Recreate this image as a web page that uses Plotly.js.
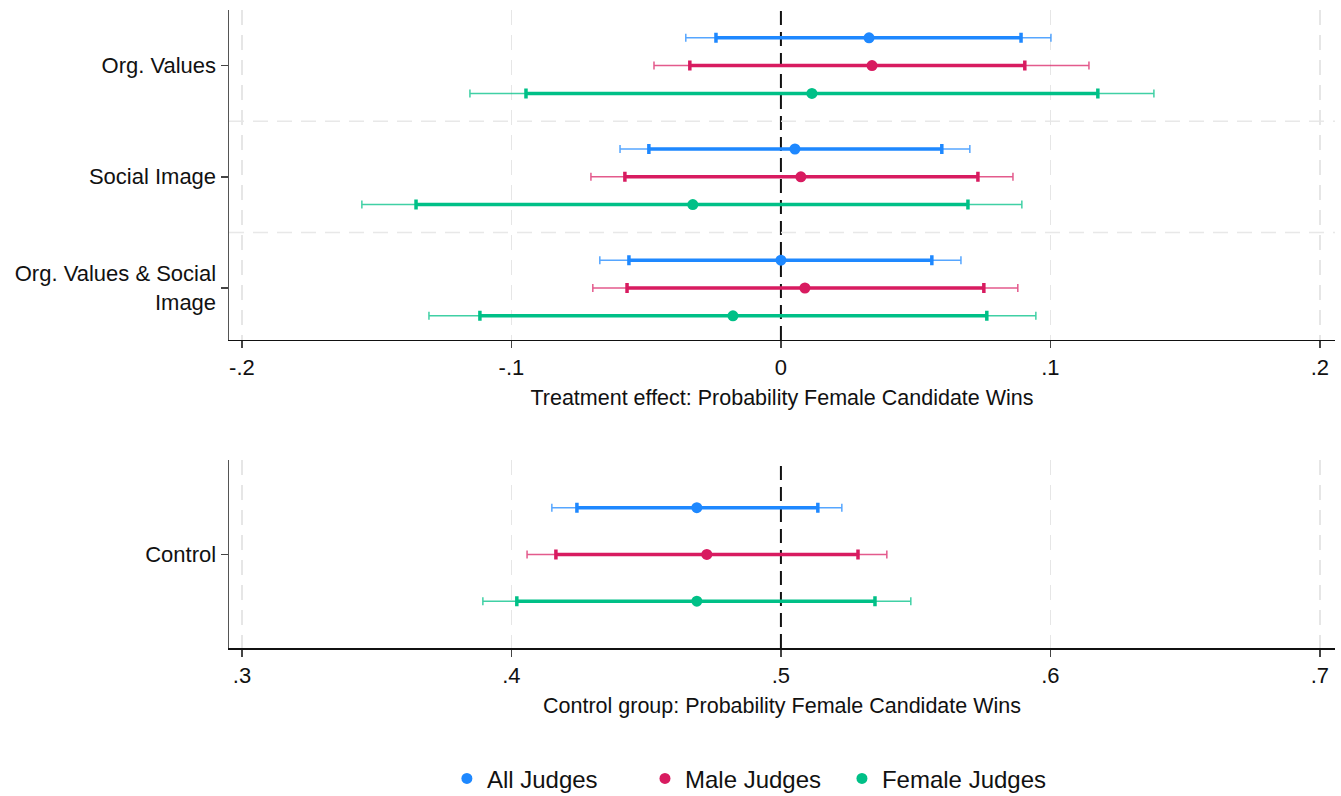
<!DOCTYPE html>
<html>
<head>
<meta charset="utf-8">
<script src="https://cdn.plot.ly/plotly-3.0.1.min.js"></script>
<style>html,body{margin:0;padding:0;background:#fff;}#chart{width:1341px;height:796px;}</style>
</head>
<body>
<div id="chart"></div>
<script>
// ---- data ----
const treatments = ["Org. Values", "Social Image", "Org. Values & Social<br>Image"];
const seriesNames = ["All Judges", "Male Judges", "Female Judges"];

// Treatment effects (top panel)
const allEst   = [0.0327, 0.0052, 0.0000];
const allLo90  = [-0.0241, -0.0490, -0.0564];
const allHi90  = [0.0891, 0.0597, 0.0560];
const allLo95  = [-0.0353, -0.0597, -0.0672];
const allHi95  = [0.1002, 0.0701, 0.0668];

const maleEst  = [0.0338, 0.0074, 0.0089];
const maleLo90 = [-0.0338, -0.0579, -0.0571];
const maleHi90 = [0.0905, 0.0731, 0.0753];
const maleLo95 = [-0.0471, -0.0705, -0.0698];
const maleHi95 = [0.1143, 0.0861, 0.0879];

const femEst   = [0.0115, -0.0327, -0.0178];
const femLo90  = [-0.0946, -0.1354, -0.1117];
const femHi90  = [0.1176, 0.0694, 0.0764];
const femLo95  = [-0.1154, -0.1555, -0.1306];
const femHi95  = [0.1384, 0.0894, 0.0946];

// Control group (bottom panel): All, Male, Female
const controlLabel = "Control";
const controlEst  = [0.4688, 0.4725, 0.4688];
const controlLo90 = [0.4243, 0.4165, 0.4020];
const controlHi90 = [0.5137, 0.5286, 0.5349];
const controlLo95 = [0.4150, 0.4058, 0.3894];
const controlHi95 = [0.5226, 0.5393, 0.5482];

const topTickVals = [-0.2, -0.1, 0, 0.1, 0.2];
const topTickText = ["-.2", "-.1", "0", ".1", ".2"];
const botTickVals = [0.3, 0.4, 0.5, 0.6, 0.7];
const botTickText = [".3", ".4", ".5", ".6", ".7"];
const topRefValue = 0;
const botRefValue = 0.5;

// ---- styles ----
const colors = ["#1e88ff", "#d81b60", "#00c087"];
const lightColors = ["rgba(30,136,255,0.75)", "rgba(216,27,96,0.72)", "rgba(0,192,135,0.75)"];
const FONT = "Liberation Sans, Arial, Helvetica, sans-serif";
const legendIds = ["legend", "legend2", "legend3"];
const legendX = [0.197, 0.3761, 0.5542];

const topSeries = [
  {est: allEst, lo90: allLo90, hi90: allHi90, lo95: allLo95, hi95: allHi95},
  {est: maleEst, lo90: maleLo90, hi90: maleHi90, lo95: maleLo95, hi95: maleHi95},
  {est: femEst, lo90: femLo90, hi90: femHi90, lo95: femLo95, hi95: femHi95}
];

const traces = [];
const GROUP_STEP = 4;

topSeries.forEach((s, k) => {
  const ys = s.est.map((_, g) => g * GROUP_STEP + k);
  traces.push({
    type: "scatter", mode: "markers", x: s.est, y: ys, xaxis: "x", yaxis: "y",
    marker: {size: 1, color: "rgba(0,0,0,0)"},
    error_x: {type: "data", symmetric: false,
      array: s.hi95.map((v, i) => v - s.est[i]),
      arrayminus: s.est.map((v, i) => v - s.lo95[i]),
      color: lightColors[k], thickness: 1.5, width: 4},
    showlegend: false, hoverinfo: "skip", legend: legendIds[k]
  });
  traces.push({
    type: "scatter", mode: "markers", x: s.est, y: ys, xaxis: "x", yaxis: "y",
    name: seriesNames[k], legend: legendIds[k],
    marker: {size: 11, color: colors[k]},
    error_x: {type: "data", symmetric: false,
      array: s.hi90.map((v, i) => v - s.est[i]),
      arrayminus: s.est.map((v, i) => v - s.lo90[i]),
      color: colors[k], thickness: 3.5, width: 5},
    showlegend: true
  });
});

controlEst.forEach((e, k) => {
  traces.push({
    type: "scatter", mode: "markers", x: [e], y: [k], xaxis: "x2", yaxis: "y2",
    marker: {size: 1, color: "rgba(0,0,0,0)"},
    error_x: {type: "data", symmetric: false,
      array: [controlHi95[k] - e], arrayminus: [e - controlLo95[k]],
      color: lightColors[k], thickness: 1.5, width: 4},
    showlegend: false, hoverinfo: "skip", legend: legendIds[k]
  });
  traces.push({
    type: "scatter", mode: "markers", x: [e], y: [k], xaxis: "x2", yaxis: "y2",
    name: seriesNames[k], legend: legendIds[k],
    marker: {size: 11, color: colors[k]},
    error_x: {type: "data", symmetric: false,
      array: [controlHi90[k] - e], arrayminus: [e - controlLo90[k]],
      color: colors[k], thickness: 3.5, width: 5},
    showlegend: false
  });
});

const shapes = [];
shapes.push({type: "line", xref: "x", yref: "y domain", x0: topRefValue, x1: topRefValue, y0: 0, y1: 1,
  line: {color: "#111", width: 2, dash: "14px,7px"}, layer: "below"});
shapes.push({type: "line", xref: "x2", yref: "y2 domain", x0: botRefValue, x1: botRefValue, y0: 0, y1: 1,
  line: {color: "#111", width: 2, dash: "14px,7px"}, layer: "below"});
for (let g = 1; g < treatments.length; g++) {
  const ySep = g * GROUP_STEP - 1;
  shapes.push({type: "line", xref: "x domain", yref: "y", x0: 0, x1: 1, y0: ySep, y1: ySep,
    line: {color: "#e8e8e8", width: 1.5, dash: "15px,9px"}, layer: "below"});
}

const tickFont = {family: FONT, size: 22, color: "#111"};
const titleFont = {family: FONT, size: 21.5, color: "#111"};

function gridMinor(vals, ref) {
  return {tickmode: "array", tickvals: vals.filter(v => Math.abs(v - ref) > 1e-9),
    showgrid: true, gridcolor: "#e6e6e6", griddash: "15px,10px", gridwidth: 1.5, ticks: ""};
}

function makeLegend(x) {
  return {orientation: "h", x: x, xanchor: "left", y: -0.205, yanchor: "middle",
    font: {family: FONT, size: 24, color: "#111"}, itemwidth: 30, bgcolor: "rgba(0,0,0,0)"};
}

const layout = {
  width: 1341, height: 796,
  margin: {l: 229, r: 6, t: 10, b: 148, autoexpand: false},
  paper_bgcolor: "#fff", plot_bgcolor: "#fff",
  font: {family: FONT, size: 21, color: "#111"},
  showlegend: true,
  legend: makeLegend(legendX[0]),
  legend2: makeLegend(legendX[1]),
  legend3: makeLegend(legendX[2]),
  xaxis: {
    domain: [0, 1], anchor: "y", range: [-0.2048, 0.2056],
    tickvals: topTickVals, ticktext: topTickText, tickfont: tickFont,
    showgrid: false, minor: gridMinor(topTickVals, topRefValue),
    zeroline: false, showline: true, linecolor: "#111", linewidth: 1.5,
    ticks: "outside", ticklen: 7, tickcolor: "#444", tickwidth: 1.5,
    title: {text: "Treatment effect: Probability Female Candidate Wins", font: titleFont, standoff: 11}
  },
  yaxis: {
    domain: [0.4828, 1], anchor: "x", range: [10.87, -1],
    tickvals: treatments.map((_, g) => g * GROUP_STEP + 1), ticktext: treatments, tickfont: tickFont,
    showgrid: false, zeroline: false, showline: true, linecolor: "#555", linewidth: 1.5,
    ticks: "outside", ticklen: 7, tickcolor: "#444", tickwidth: 1.5
  },
  xaxis2: {
    domain: [0, 1], anchor: "y2", range: [0.2952, 0.7056],
    tickvals: botTickVals, ticktext: botTickText, tickfont: tickFont,
    showgrid: false, minor: gridMinor(botTickVals, botRefValue),
    zeroline: false, showline: true, linecolor: "#111", linewidth: 1.5,
    ticks: "outside", ticklen: 7, tickcolor: "#444", tickwidth: 1.5,
    title: {text: "Control group: Probability Female Candidate Wins", font: titleFont, standoff: 11}
  },
  yaxis2: {
    domain: [0, 0.2947], anchor: "x2", range: [3.0, -1.02],
    tickvals: [1], ticktext: [controlLabel], tickfont: tickFont,
    showgrid: false, zeroline: false, showline: true, linecolor: "#555", linewidth: 1.5,
    ticks: "outside", ticklen: 7, tickcolor: "#444", tickwidth: 1.5
  },
  shapes: shapes
};

Plotly.newPlot("chart", traces, layout, {displayModeBar: false, staticPlot: true});
</script>
</body>
</html>
